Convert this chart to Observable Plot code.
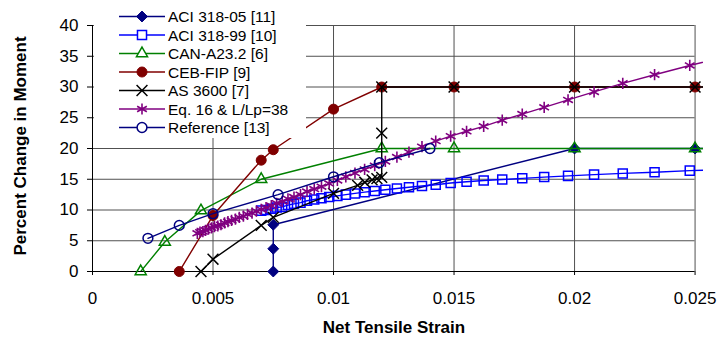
<!DOCTYPE html>
<html><head><meta charset="utf-8">
<script src="https://cdn.jsdelivr.net/npm/d3@7"></script>
<script src="https://cdn.jsdelivr.net/npm/@observablehq/plot@0.6"></script>
<style>
html,body{margin:0;padding:0;background:#fff;}
#wrap{position:relative;width:720px;height:343px;font-family:"Liberation Sans",Arial,sans-serif;color:#000;overflow:hidden;}
#wrap svg{display:block;}
#legend{position:absolute;left:94px;top:0;width:212px;height:138px;background:#fff;}
.ttl{position:absolute;font-weight:bold;font-size:17px;white-space:nowrap;}
#xt{left:394px;top:328px;transform:translate(-50%,-50%);}
#yt{left:21px;top:146px;transform:translate(-50%,-50%) rotate(-90deg);}
</style></head><body>
<div id="wrap"></div>
<script>
// ---- data ----
const xTicks = [0, 0.005, 0.01, 0.015, 0.02, 0.025];
const yTicks = [0, 5, 10, 15, 20, 25, 30, 35, 40];
const xTitle = "Net Tensile Strain";
const yTitle = "Percent Change in Moment";
const seriesNames = ["ACI 318-05 [11]", "ACI 318-99 [10]", "CAN-A23.2 [6]", "CEB-FIP [9]", "AS 3600 [7]", "Eq. 16 & L/Lp=38", "Reference [13]"];

const aci05X = [0.0075, 0.0075, 0.0075, 0.02, 0.025, 0.03];
const aci05Y = [0, 3.7, 7.6, 20, 20, 20];

const aci99X = [0.00700, 0.00720, 0.00742, 0.00764, 0.00787, 0.00811, 0.00836, 0.00863, 0.00890, 0.00920, 0.00950, 0.00982, 0.01016, 0.01051, 0.01089, 0.01129, 0.01171, 0.01215, 0.01263, 0.01313, 0.01367, 0.01424, 0.01486, 0.01552, 0.01623, 0.01700, 0.01783, 0.01874, 0.01973, 0.02081, 0.02200, 0.02332, 0.02478, 0.02641];
const aci99Y = [9.9, 10.0, 10.2, 10.4, 10.5, 10.8, 11.0, 11.2, 11.5, 11.7, 11.9, 12.1, 12.3, 12.5, 12.7, 12.9, 13.1, 13.3, 13.5, 13.7, 13.9, 14.1, 14.4, 14.6, 14.8, 14.95, 15.15, 15.35, 15.55, 15.75, 15.95, 16.15, 16.4, 16.6];

const canX = [0.002, 0.003, 0.0045, 0.007, 0.012, 0.015, 0.02, 0.025, 0.03];
const canY = [0, 4.8, 9.9, 15, 20, 20, 20, 20, 20];

const cebX = [0.0036, 0.005, 0.007, 0.0075, 0.01, 0.012, 0.015, 0.02, 0.025, 0.03];
const cebY = [0, 9.1, 18.1, 19.8, 26.4, 30, 30, 30, 30, 30];

const asX = [0.0045, 0.005, 0.007, 0.0075, 0.01, 0.011, 0.0113, 0.0116, 0.0118, 0.012, 0.012, 0.012, 0.015, 0.02, 0.025, 0.03];
const asY = [0, 2, 7.5, 8.8, 12.7, 14, 14.5, 14.9, 15.1, 15.3, 22.5, 30, 30, 30, 30, 30];

const eqX = [0.00435, 0.00446, 0.00458, 0.00469, 0.00481, 0.00494, 0.00506, 0.00520, 0.00533, 0.00548, 0.00562, 0.00577, 0.00593, 0.00609, 0.00626, 0.00643, 0.00662, 0.00680, 0.00700, 0.00720, 0.00742, 0.00764, 0.00787, 0.00811, 0.00836, 0.00863, 0.00890, 0.00920, 0.00950, 0.00982, 0.01016, 0.01051, 0.01089, 0.01129, 0.01171, 0.01215, 0.01263, 0.01313, 0.01367, 0.01424, 0.01486, 0.01552, 0.01623, 0.01700, 0.01783, 0.01874, 0.01973, 0.02081, 0.02200, 0.02332, 0.02478, 0.02641];
const eqY = [6.2, 6.4, 6.5, 6.7, 6.9, 7.1, 7.3, 7.4, 7.6, 7.9, 8.1, 8.3, 8.5, 8.8, 9.0, 9.3, 9.5, 9.8, 10.1, 10.4, 10.7, 11.1, 11.4, 11.8, 12.1, 12.5, 13.0, 13.4, 13.8, 14.3, 14.8, 15.4, 16.0, 16.6, 17.2, 17.9, 18.6, 19.4, 20.3, 21.2, 22.0, 22.8, 23.6, 24.6, 25.6, 26.7, 27.9, 29.2, 30.6, 32.0, 33.5, 35.1];

const refX = [0.0023, 0.0036, 0.005, 0.0077, 0.01, 0.0119, 0.014];
const refY = [5.4, 7.5, 9.4, 12.5, 15.4, 17.7, 20];

// ---- styles ----
const styles = [
  {stroke: "#000080", fill: "#000080", symbol: "diamond2", r: 4.9, sw: 1},
  {stroke: "#0000ff", fill: "none", symbol: "square", r: 5.1, sw: 1.5},
  {stroke: "#008000", fill: "none", symbol: "triangle2", r: 5.3, sw: 1.5},
  {stroke: "#800000", fill: "#800000", symbol: "circle", r: 5, sw: 1},
  {stroke: "#000000", fill: "none", symbol: "times", r: 5, sw: 1.5},
  {stroke: "#800080", fill: "none", symbol: "asterisk", r: 5.3, sw: 1.6},
  {stroke: "#000080", fill: "none", symbol: "circle", r: 4.9, sw: 1.5}
];
const xs = [aci05X, aci99X, canX, cebX, asX, eqX, refX];
const ys = [aci05Y, aci99Y, canY, cebY, asY, eqY, refY];
const data = seriesNames.map((name, i) => xs[i].map((x, j) => ({name, x, y: ys[i][j]})));

const seriesMarks = [];
data.forEach((rows, i) => {
  const s = styles[i];
  seriesMarks.push(Plot.line(rows, {x: "x", y: "y", stroke: s.stroke, strokeWidth: 1.4, clip: true}));
  seriesMarks.push(Plot.dot(rows.filter(d => d.x <= 0.025), {x: "x", y: "y", symbol: s.symbol, r: s.r, stroke: s.stroke, fill: s.fill, strokeWidth: s.sw}));
});

const grid = "#505050";
const chart = Plot.plot({
  width: 720, height: 343,
  marginLeft: 92, marginRight: 17, marginTop: 25, marginBottom: 72,
  x: {domain: [0, 0.02535], ticks: xTicks, tickSize: 4, tickPadding: 16, tickFormat: d => d === 0 ? "0" : String(d), label: null},
  y: {domain: [0, 40], ticks: yTicks, tickSize: 5, tickPadding: 9, label: null},
  style: {fontFamily: "'Liberation Sans', Arial, sans-serif", fontSize: "17px", color: "#000", background: "transparent", overflow: "visible"},
  marks: [
    Plot.ruleY(yTicks.filter(v => v > 0), {x1: 0, x2: 0.025, stroke: grid, strokeWidth: 1}),
    Plot.ruleX(xTicks.filter(v => v > 0), {y1: 0, y2: 40, stroke: grid, strokeWidth: 1}),
    Plot.ruleX([0], {y1: 0, y2: 40, stroke: "#000", strokeWidth: 1}),
    Plot.ruleY([0], {x1: 0, x2: 0.025, stroke: "#000", strokeWidth: 1}),
    ...seriesMarks
  ]
});
const wrap = document.getElementById("wrap");
wrap.appendChild(chart);

// ---- legend ----
const leg = document.createElement("div");
leg.id = "legend";
wrap.appendChild(leg);
const lsvg = d3.select(leg).append("svg").attr("width", 212).attr("height", 138);
const symMap = {diamond2: d3.symbolDiamond2, square: d3.symbolSquare, triangle2: d3.symbolTriangle2, circle: d3.symbolCircle, times: d3.symbolTimes, asterisk: d3.symbolAsterisk};
seriesNames.forEach((name, i) => {
  const s = styles[i];
  const cy = 16.5 + i * 18.5;
  const g = lsvg.append("g").attr("transform", `translate(0,${cy})`);
  g.append("line").attr("x1", 25).attr("x2", 71).attr("y1", 0).attr("y2", 0).attr("stroke", s.stroke).attr("stroke-width", 1.4);
  g.append("path").attr("transform", "translate(48,0)")
    .attr("d", d3.symbol(symMap[s.symbol], Math.PI * s.r * s.r)())
    .attr("fill", s.fill === "none" ? "#fff" : s.fill).attr("stroke", s.stroke).attr("stroke-width", s.sw);
  g.append("text").attr("x", 74).attr("y", 0).attr("dy", "0.36em")
    .attr("font-family", "'Liberation Sans', Arial, sans-serif").attr("font-size", 15.5).attr("fill", "#000").text(name);
});

// ---- axis titles ----
const xt = document.createElement("div"); xt.className = "ttl"; xt.id = "xt"; xt.textContent = xTitle; wrap.appendChild(xt);
const yt = document.createElement("div"); yt.className = "ttl"; yt.id = "yt"; yt.textContent = yTitle; wrap.appendChild(yt);
</script>
</body></html>
